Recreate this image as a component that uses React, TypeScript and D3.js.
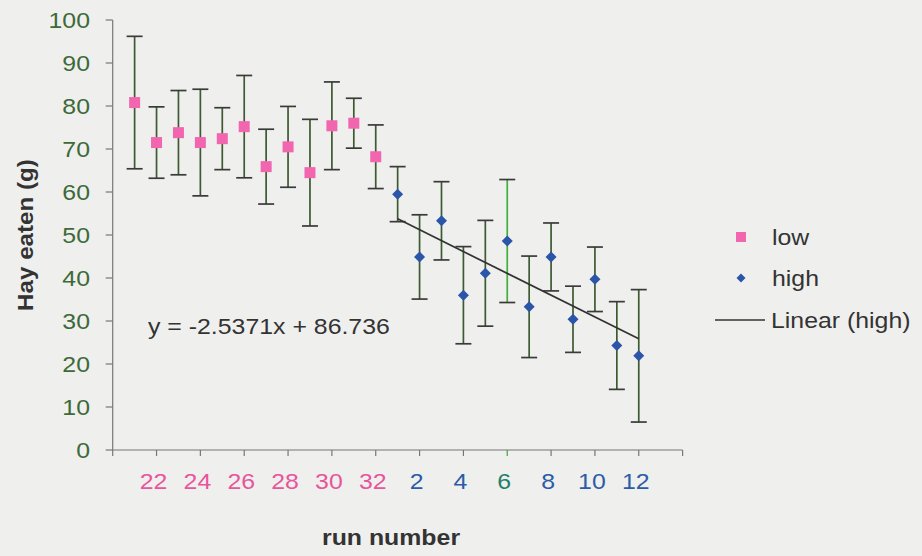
import React from "react";
import * as d3 from "d3";

const lowRuns = [21, 22, 23, 24, 25, 26, 27, 28, 29, 30, 31, 32];
const lowMeans = [80.8, 71.5, 73.8, 71.5, 72.4, 75.2, 65.9, 70.5, 64.5, 75.4, 76.0, 68.2];
const lowErrs = [15.4, 8.3, 9.8, 12.4, 7.2, 11.9, 8.7, 9.4, 12.4, 10.2, 5.8, 7.4];

const highRuns = [1, 2, 3, 4, 5, 6, 7, 8, 9, 10, 11, 12];
const highMeans = [59.5, 44.9, 53.3, 36.0, 41.1, 48.6, 33.3, 44.9, 30.4, 39.7, 24.3, 21.9];
const highErrs = [6.4, 9.8, 9.1, 11.3, 12.3, 14.3, 11.8, 7.9, 7.7, 7.5, 10.2, 15.4];

const yTicks = [0, 10, 20, 30, 40, 50, 60, 70, 80, 90, 100];
const xTickIdx = [0, 2, 4, 6, 8, 10, 12, 14, 16, 18, 20, 22, 24, 26];
const xLabels = ["", "22", "24", "26", "28", "30", "32", "2", "4", "6", "8", "10", "12", ""];
const slope = -2.5371;
const intercept = 86.736;

const FONT = "'Liberation Sans', Arial, sans-serif";
const SX = 1.13;

function T(props: {
  x: number;
  y: number;
  anchor?: "start" | "middle" | "end";
  size?: number;
  fill?: string;
  bold?: boolean;
  dy?: string;
  children: React.ReactNode;
}) {
  return (
    <text
      transform={`translate(${props.x},${props.y}) scale(${SX},1)`}
      textAnchor={props.anchor || "start"}
      fontSize={props.size || 22}
      fontWeight={props.bold ? "bold" : "normal"}
      fill={props.fill || "#333"}
      dy={props.dy}
    >
      {props.children}
    </text>
  );
}

export default function App() {
  const x = d3.scaleLinear().domain([0, 26]).range([112.7, 682.6]);
  const y = d3.scaleLinear().domain([0, 100]).range([450, 20]);

  const low = lowRuns.map((r, i) => ({ r, idx: i + 1, m: lowMeans[i], e: lowErrs[i] }));
  const high = highRuns.map((r, i) => ({ r, idx: i + 13, m: highMeans[i], e: highErrs[i] }));

  const labelColor = (i: number) => {
    if (i >= 1 && i <= 6) return "#e8559c";
    if (xLabels[i] === "6") return "#1f7f6a";
    return "#2b5ca8";
  };

  const errBar = (d: { idx: number; m: number; e: number; r: number }, key: string, vcol: string) => {
    const cx = x(d.idx);
    const top = y(d.m + d.e);
    const bot = y(d.m - d.e);
    return (
      <g key={key}>
        <line x1={cx} x2={cx} y1={top} y2={bot} stroke={vcol} strokeWidth={1.7} />
        <line x1={cx - 8} x2={cx + 8} y1={top} y2={top} stroke="#3a3a3a" strokeWidth={1.7} />
        <line x1={cx - 8} x2={cx + 8} y1={bot} y2={bot} stroke="#3a3a3a" strokeWidth={1.7} />
      </g>
    );
  };

  const trend = d3
    .line<number>()
    .x((i) => x(i))
    .y((i) => y(slope * i + intercept));

  const diamond = "M0,-5.5L5.5,0L0,5.5L-5.5,0Z";

  return (
    <svg
      width={922}
      height={556}
      style={{ position: "absolute", left: 0, top: 0, background: "#efefee" }}
      fontFamily={FONT}
    >
      <rect x={0} y={0} width={922} height={556} fill="#efefee" />
      {/* y axis */}
      <line x1={x(0)} x2={x(0)} y1={y(100)} y2={y(0)} stroke="#777" strokeWidth={1.2} />
      {yTicks.map((t) => (
        <g key={"yt" + t}>
          <line x1={x(0) - 7} x2={x(0)} y1={y(t)} y2={y(t)} stroke="#777" strokeWidth={1.2} />
          <T x={90} y={y(t)} dy="0.36em" anchor="end" fill="#3d6a38">
            {t}
          </T>
        </g>
      ))}
      {/* x axis */}
      <line x1={x(0)} x2={x(26)} y1={y(0)} y2={y(0)} stroke="#777" strokeWidth={1.2} />
      {xTickIdx.map((t, i) => (
        <g key={"xt" + t}>
          <line x1={x(t)} x2={x(t)} y1={y(0)} y2={y(0) + 6} stroke={xLabels[i] === "6" ? "#3fa53a" : "#777"} strokeWidth={1.2} />
          {xLabels[i] && (
            <T x={x(t) - 3} y={y(0) + 39} anchor="middle" fill={labelColor(i)}>
              {xLabels[i]}
            </T>
          )}
        </g>
      ))}
      <T x={391} y={545} anchor="middle" bold>
        run number
      </T>
      <text
        transform={`translate(33, ${y(50)}) rotate(-90) scale(1.1,1)`}
        textAnchor="middle"
        fontSize={22}
        fontWeight="bold"
        fill="#333"
      >
        Hay eaten (g)
      </text>

      {/* error bars */}
      {low.map((d) => errBar(d, "le" + d.r, "#3d5a30"))}
      {high.map((d) => errBar(d, "he" + d.r, d.r === 6 ? "#3fb03a" : "#3d5a30"))}

      {/* trendline */}
      <path d={trend([13, 24]) || ""} fill="none" stroke="#333" strokeWidth={1.7} />

      {/* markers */}
      {low.map((d) => (
        <rect key={"lm" + d.r} x={x(d.idx) - 5.5} y={y(d.m) - 5.5} width={11} height={11} fill="#f266b0" />
      ))}
      {high.map((d) => (
        <path key={"hm" + d.r} d={diamond} transform={`translate(${x(d.idx)},${y(d.m)})`} fill="#2a55a8" />
      ))}

      <T x={148} y={334}>
        y = -2.5371x + 86.736
      </T>

      {/* legend */}
      <rect x={736} y={232} width={10} height={10} fill="#f266b0" />
      <T x={772} y={237} dy="0.36em">low</T>
      <path d="M0,-4.5L4.5,0L0,4.5L-4.5,0Z" transform="translate(741,278)" fill="#2a55a8" />
      <T x={772} y={278} dy="0.36em">high</T>
      <line x1={715} x2={765} y1={320} y2={320} stroke="#333" strokeWidth={1.7} />
      <T x={771} y={320} dy="0.36em">Linear (high)</T>
    </svg>
  );
}
